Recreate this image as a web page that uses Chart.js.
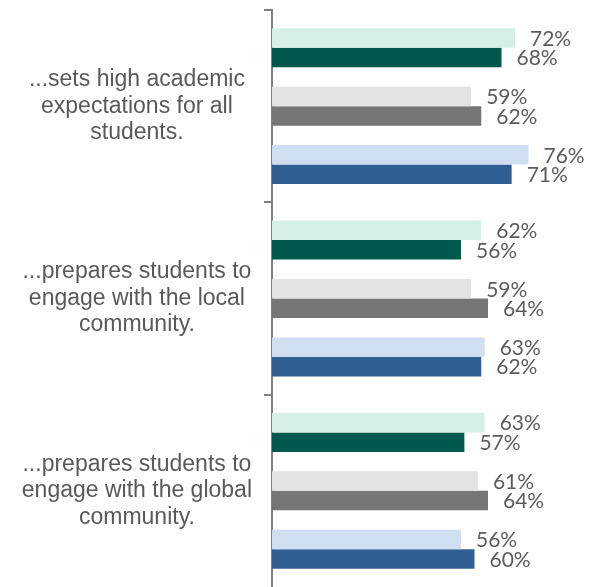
<!DOCTYPE html>
<html>
<head>
<meta charset="utf-8">
<script src="https://cdn.jsdelivr.net/npm/chart.js@4"></script>
<style>
  body { margin: 0; background: #fff; }
  #wrap { width: 591px; height: 587px; position: relative; }
</style>
</head>
<body>
<div id="wrap"><canvas id="myChart"></canvas></div>
<script>
const categories = [
  ["...sets high academic", "expectations for all", "students."],
  ["...prepares students to", "engage with the local", "community."],
  ["...prepares students to", "engage with the global", "community."]
];

// pairs of series, light bar on top of dark bar
const greenLight = [72, 62, 63];
const greenDark = [68, 56, 57];
const grayLight = [59, 59, 61];
const grayDark = [62, 64, 64];
const blueLight = [76, 63, 56];
const blueDark = [71, 62, 60];
const spacer = [null, null, null];

const seriesColors = ['#d5efe5', '#00594c', null, '#e3e3e3', '#767676', null, '#cfdef0', '#2f5f93'];

const valueLabels = {
  id: 'valueLabels',
  afterDatasetsDraw(chart) {
    const ctx = chart.ctx;
    ctx.save();
    ctx.font = '21px Lato';
    ctx.fillStyle = '#5c5c5c';
    ctx.textAlign = 'left';
    ctx.textBaseline = 'middle';
    chart.data.datasets.forEach((ds, i) => {
      if (ds.spacer) return;
      const meta = chart.getDatasetMeta(i);
      meta.data.forEach((bar, j) => {
        const v = ds.data[j];
        if (v == null) return;
        ctx.fillText(v + '%', bar.x + 15, bar.y + 1);
      });
    });
    ctx.restore();
  }
};

function makeDataset(values, color, isSpacer) {
  return {
    data: values,
    backgroundColor: color || 'rgba(0,0,0,0)',
    borderWidth: 0,
    spacer: isSpacer
  };
}

const ctx = document.getElementById('myChart').getContext('2d');
new Chart(ctx, {
  type: 'bar',
  data: {
    labels: categories,
    datasets: [
      makeDataset(greenLight, seriesColors[0]),
      makeDataset(greenDark, seriesColors[1]),
      makeDataset(spacer, null, true),
      makeDataset(grayLight, seriesColors[3]),
      makeDataset(grayDark, seriesColors[4]),
      makeDataset(spacer, null, true),
      makeDataset(blueLight, seriesColors[6]),
      makeDataset(blueDark, seriesColors[7])
    ]
  },
  options: {
    indexAxis: 'y',
    responsive: true,
    maintainAspectRatio: false,
    animation: false,
    layout: { padding: { top: 10, right: 49, bottom: 0, left: 0 } },
    datasets: { bar: { categoryPercentage: 0.81, barPercentage: 1 } },
    scales: {
      x: { display: false, min: 0, max: 80 },
      y: {
        grid: {
          offset: true,
          drawOnChartArea: false,
          drawTicks: true,
          tickLength: 8,
          color: '#808080',
          // no tick mark at the very bottom
          tickColor: c => c.type === 'tick' ? '#808080' : 'rgba(0,0,0,0)',
          lineWidth: 2
        },
        border: { color: '#808080', width: 2 },
        ticks: {
          crossAlign: 'center',
          padding: 12,
          color: '#595959',
          font: { family: 'Liberation Sans', size: 23, lineHeight: 1.15 }
        },
        afterFit: function(scale) {
          scale.width = 272;
          scale.paddingTop = 0;
          scale.paddingBottom = 0;
        }
      }
    },
    plugins: {
      legend: { display: false },
      tooltip: { enabled: false }
    }
  },
  plugins: [valueLabels]
});
</script>
</body>
</html>
